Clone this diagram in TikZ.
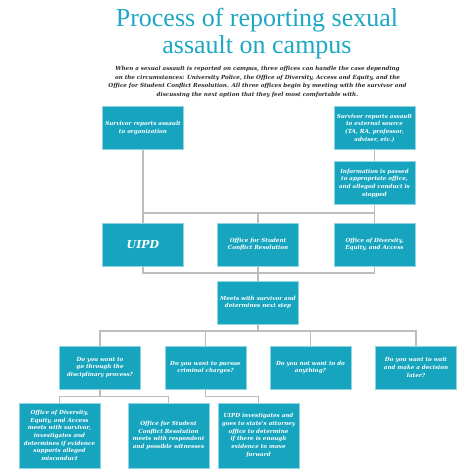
\documentclass[tikz,border=0pt]{standalone}
\usepackage{fontspec}
\setmainfont{Liberation Serif}
\newfontfamily\slabfont{DejaVu Serif}
\definecolor{boxteal}{HTML}{17A4BF}
\definecolor{titleteal}{HTML}{1DA8C3}
\definecolor{boxedge}{HTML}{8FD6E3}
\definecolor{connline}{HTML}{BDBDBD}
\definecolor{subtext}{HTML}{2A2A2A}
\tikzset{
  stepbox/.style={rectangle, fill=boxteal, draw=boxedge, line width=0.6pt,
    minimum width=81pt, minimum height=43pt, inner sep=1pt, align=center,
    text=white, font=\slabfont\fontsize{5.6}{7.7}\selectfont\bfseries\itshape},
  tallbox/.style={stepbox, minimum height=65pt},
  conn/.style={draw=connline, line width=1.1pt},
  titletext/.style={text=titleteal, anchor=base, inner sep=0pt, font=\fontsize{26}{27}\selectfont},
}
\begin{document}
\begin{tikzpicture}[x=1pt,y=-1pt]
\useasboundingbox (0,0) rectangle (461,475);
\fill[white] (0,0) rectangle (461,475);
% title
\node[titletext] (title1) at (257,26) {Process of reporting sexual};
\node[titletext] (title2) at (257,53) {assault on campus};
\node[text=subtext, align=center, font=\slabfont\fontsize{5.6}{8.6}\selectfont\bfseries\itshape] (sub) at (257.5,82)
  {When a sexual assault is reported on campus, three offices can handle the case depending\\
   on the circumstances: University Police, the Office of Diversity, Access and Equity, and the\\
   Office for Student Conflict Resolution. All three offices begin by meeting with the survivor and\\
   discussing the next option that they feel most comfortable with.};
% row 1-2
\node[stepbox] (A) at (143,128) {Survivor reports assault\\to organization};
\node[stepbox] (B) at (374.5,128) {Survivor reports assault\\to external source\\(TA, RA, professor,\\adviser, etc.)};
\node[stepbox] (C) at (374.5,183) {Information is passed\\to appropriate office,\\and alleged conduct is\\stopped};
% row 3
\node[stepbox, font=\slabfont\fontsize{11}{14}\selectfont\bfseries\itshape] (UIPD) at (143,244.5) {UIPD};
\node[stepbox] (OSCR) at (258,244.5) {Office for Student\\Conflict Resolution};
\node[stepbox] (ODEA) at (374.5,244.5) {Office of Diversity,\\Equity, and Access};
% row 4
\node[stepbox] (Meets) at (258,302.5) {Meets with survivor and\\determines next step};
% row 5
\node[stepbox] (Q1) at (100,367.5) {Do you want to\\go through the\\disciplinary process?};
\node[stepbox] (Q2) at (205.5,367.5) {Do you want to pursue\\criminal charges?};
\node[stepbox] (Q3) at (310.5,367.5) {Do you not want to do\\anything?};
\node[stepbox] (Q4) at (416,367.5) {Do you want to wait\\and make a decision\\later?};
% row 6
\node[tallbox] (R1) at (59.5,435.5) {Office of Diversity,\\Equity, and Access\\meets with survivor,\\investigates and\\determines if evidence\\supports alleged\\misconduct};
\node[tallbox] (R2) at (168.5,435.5) {Office for Student\\Conflict Resolution\\meets with respondent\\and possible witnesses};
\node[tallbox] (R3) at (258.5,435.5) {UIPD investigates and\\goes to state's attorney\\office to determine\\if there is enough\\evidence to move\\forward};
% bus coordinates
\coordinate (b1) at (258,213);
\coordinate (b2) at (258,273);
\coordinate (b3) at (258,331);
\coordinate (b4) at (100,396.5);
\coordinate (b5) at (205.5,396.5);
% connectors
\draw[conn] (A.south) -- (UIPD.north);
\draw[conn] (B.south) -- (C.north);
\draw[conn] (C.south) -- (ODEA.north);
\draw[conn] (A.south |- b1) -- (C.south |- b1);
\draw[conn] (b1) -- (OSCR.north);
\draw[conn] (UIPD.south) |- (b2);
\draw[conn] (ODEA.south) |- (b2);
\draw[conn] (OSCR.south) -- (Meets.north);
\draw[conn] (Meets.south) -- (b3);
\draw[conn] (b3) -| (Q1.north);
\draw[conn] (b3) -| (Q4.north);
\draw[conn] (Q2.north |- b3) -- (Q2.north);
\draw[conn] (Q3.north |- b3) -- (Q3.north);
\draw[conn] (Q1.south) -- (b4);
\draw[conn] (b4) -| (R1.north);
\draw[conn] (b4) -| (R2.north);
\draw[conn] (Q2.south) -- (b5);
\draw[conn] (b5) -| (R3.north);
\end{tikzpicture}
\end{document}
